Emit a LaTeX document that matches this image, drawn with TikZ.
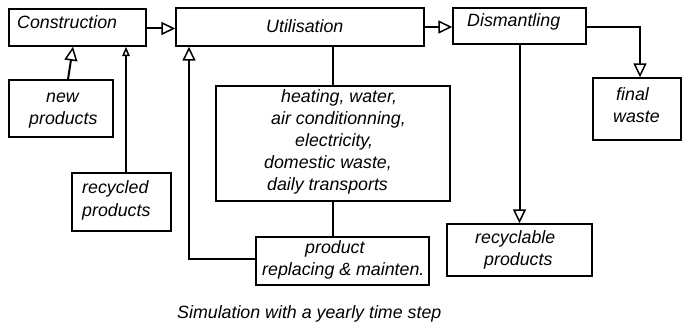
\documentclass[tikz,border=0pt]{standalone}
\usepackage{fontspec}
\setmainfont{Liberation Sans}
\usetikzlibrary{arrows.meta}
\begin{document}
\begin{tikzpicture}[x=1pt,y=-1pt,
  box/.style={draw, line width=1.4pt, inner sep=0pt},
  txt/.style={font=\fontsize{17.8}{22}\selectfont\itshape, inner sep=0pt},
  conn/.style={line width=2pt},
  thinconn/.style={line width=1.4pt},
  bigtip/.style={-{Triangle[open,length=14pt,width=13pt,line width=1.5pt]}},
  smalltip/.style={-{Triangle[open,length=9.5pt,width=7.5pt,line width=1.5pt]}}]
\useasboundingbox (0,0) rectangle (682,326);
% boxes
\node[box, minimum width=137pt, minimum height=37pt] (cons) at (77.5,27.5) {};
\node[box, minimum width=248pt, minimum height=38pt] (util) at (300,27) {};
\node[box, minimum width=133pt, minimum height=36pt] (dism) at (519.5,26) {};
\node[box, minimum width=104pt, minimum height=57pt] (newp) at (61,108.5) {};
\node[box, minimum width=99pt, minimum height=58pt] (recy) at (121.5,202) {};
\node[box, minimum width=234pt, minimum height=115pt] (heat) at (333,143.5) {};
\node[box, minimum width=173pt, minimum height=48pt] (prod) at (342.5,261) {};
\node[box, minimum width=145pt, minimum height=52pt] (recl) at (519.5,250) {};
\node[box, minimum width=88pt, minimum height=62pt] (fin) at (637,109) {};
% texts
\node[txt, anchor=base west] (tcons) at (17,29) {Construction};
\node[txt, anchor=base west] (tutil) at (266,33) {Utilisation};
\node[txt, anchor=base west] (tdism) at (467,27) {Dismantling};
\node[txt, anchor=north west, align=left] (tnewp) at (29,86.6) {\hspace*{17pt}new\strut\\products\strut};
\node[txt, anchor=north west, align=left] (trecy) at (82,177.6) {recycled\strut\\[1pt]products\strut};
\node[txt, anchor=north west, align=left] (tfin) at (613,84.6) {\hspace*{3pt}final\strut\\waste\strut};
\node[txt, anchor=north west, align=left] (theat) at (264,86.6) {\hspace*{17pt}heating, water,\strut\\\hspace*{7pt}air conditionning,\strut\\\hspace*{31pt}electricity,\strut\\domestic waste,\strut\\\hspace*{3pt}daily transports\strut};
\node[txt, anchor=north west, align=left] (tprod) at (262,237.6) {\hspace*{43pt}product\strut\\replacing \& mainten.\strut};
\node[txt, anchor=north west, align=left] (trecl) at (475,227.6) {recyclable\strut\\\hspace*{9pt}products\strut};
\node[txt, anchor=base west] (cap) at (177,318.5) {Simulation with a yearly time step};
% connectors
\draw[conn, bigtip] ([yshift=-1pt]cons.east) -- ([yshift=-1pt]cons.east -| util.west);
\draw[conn, bigtip] (util.east) -- (util.east -| dism.west);
\draw[conn, bigtip] ([yshift=-1pt]dism.east) -- ([yshift=-1pt,xshift=3pt]dism.east -| fin.north) -- ([xshift=3pt]fin.north);
\draw[conn, bigtip] (dism.south) -- (dism.south |- recl.north);
\draw[conn, bigtip] ([xshift=7pt]newp.north) -- ([xshift=-4.5pt]cons.south);
\draw[conn, smalltip] ([xshift=4.5pt]recy.north) -- ([xshift=4.5pt]recy.north |- cons.south);
\coordinate (bend) at (189,259);
\draw[conn, bigtip] (prod.west |- bend) -- (bend) -- (bend |- util.south);
\draw[thinconn] (heat.north |- util.south) -- (heat.north);
\draw[thinconn] (heat.south) -- (heat.south |- prod.north);
\end{tikzpicture}
\end{document}
